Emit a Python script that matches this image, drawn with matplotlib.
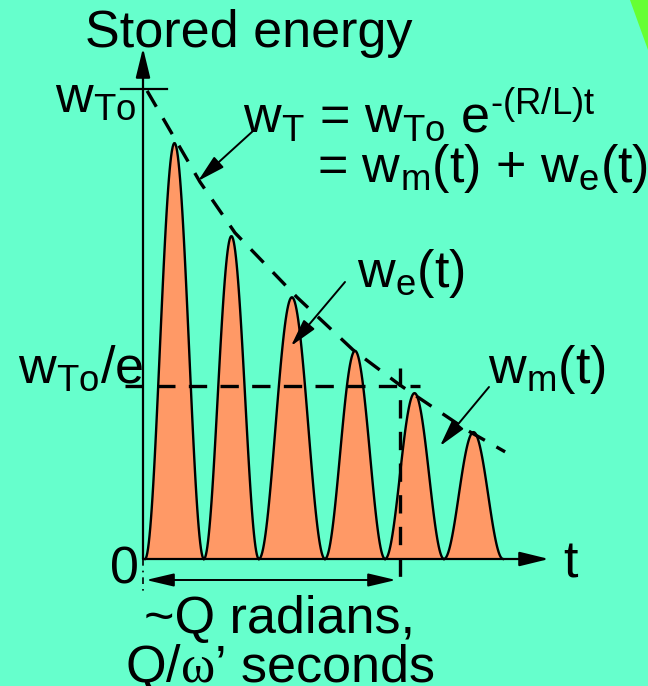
import numpy as np
import matplotlib
matplotlib.use('Agg')
import matplotlib.pyplot as plt
from matplotlib.patches import Polygon

plt.rcParams['font.family'] = ['Liberation Sans', 'DejaVu Sans']
plt.rcParams['mathtext.fontset'] = 'custom'
plt.rcParams['mathtext.rm'] = 'Liberation Sans'
plt.rcParams['mathtext.it'] = 'Liberation Sans'
plt.rcParams['mathtext.sf'] = 'Liberation Serif'

# time in units of L/R, energy in units of w_To
zeros_t = [0.008, 0.237, 0.451, 0.708, 0.942, 1.171, 1.401]
peak_w = [0.885, 0.687, 0.557, 0.443, 0.353, 0.270]
env_t = [0.016, 0.222, 0.358, 0.599, 0.817, 1.0, 1.261, 1.409]
env_w = [0.996, 0.802, 0.694, 0.557, 0.445, 0.370, 0.274, 0.228]
w_top = 1.0
w_e_level = 0.368
t_e = 1.0

bg = '#66FFCC'
fill_col = '#FF9966'

fig = plt.figure(figsize=(6.48, 6.86), dpi=100, facecolor=bg)
ax = fig.add_axes([0, 0, 1, 1])
ax.set_facecolor(bg)
ax.axis('off')
# pixel frame: axis origin at (143, 559), 257 px per L/R, 470 px per w_To
X0, Y0, SX, SY = 143, 559, 257, 470
ax.set_xlim(-X0 / SX, (648 - X0) / SX)
ax.set_ylim((Y0 - 686) / SY, Y0 / SY)


def px(x, y):
    return ((x - X0) / SX, (Y0 - y) / SY)


# green corner
fig.patches.append(Polygon([(630 / 648, 1), (1, 1), (1, 1 - 50 / 686)],
                           closed=True, transform=fig.transFigure,
                           facecolor='#66FF33', edgecolor='none'))

# energy lobes
for a, b, h in zip(zeros_t[:-1], zeros_t[1:], peak_w):
    s = np.linspace(0, 1, 80)
    t = a + (b - a) * s
    w = h * np.sin(np.pi * s) ** 2
    ax.fill_between(t, 0, w, color=fill_col, lw=0, zorder=2)
    ax.plot(t, w, color='k', lw=1.7, zorder=3)

dash = (0, (5.5, 4))
# envelope
ax.plot(env_t, env_w, color='k', lw=2.4, ls=dash, zorder=5)
# 1/e guides
ax.plot([px(125, 0)[0], px(420, 0)[0]], [w_e_level, w_e_level],
        color='k', lw=2.4, ls=dash, zorder=5)
ax.plot([t_e, t_e], [px(0, 368)[1], px(0, 586)[1]],
        color='k', lw=2.4, ls=dash, zorder=5)
ax.plot([0, 0], [0, px(0, 592)[1]], color='k', lw=1.2, ls=(0, (4, 3, 1, 3)), zorder=5)

# w_To tick
ax.plot([px(121, 0)[0], px(167, 0)[0]], [w_top, w_top], color='k', lw=1.6, zorder=5)

# axes with arrows
ax_arrow = dict(arrowstyle='-|>,head_length=0.9,head_width=0.22', color='k',
                lw=1.6, shrinkA=0, shrinkB=0, mutation_scale=20)
ax.annotate('', xy=px(143, 48), xytext=(0, 0), arrowprops=ax_arrow, zorder=6)
ax.annotate('', xy=px(549, 559), xytext=(0, 0), arrowprops=ax_arrow, zorder=6)

# pointer arrows
ptr = dict(arrowstyle='-|>,head_length=0.85,head_width=0.22', color='k',
           lw=1.4, shrinkA=0, shrinkB=0, mutation_scale=20)
ax.annotate('', xy=px(198, 181), xytext=px(253, 131), arrowprops=ptr, zorder=6)
ax.annotate('', xy=px(291, 346), xytext=px(345, 282), arrowprops=ptr, zorder=6)
ax.annotate('', xy=px(440, 446), xytext=px(489, 387), arrowprops=ptr, zorder=6)
ax.annotate('', xy=px(396, 580), xytext=px(146, 580),
            arrowprops=dict(arrowstyle='<|-|>,head_length=0.85,head_width=0.2',
                            color='k', lw=1.4, shrinkA=0, shrinkB=0,
                            mutation_scale=20), zorder=6)

fs = 37.5
kw = dict(fontsize=fs, color='k', va='baseline', ha='left', zorder=7)
ax.text(*px(85, 47), 'Stored energy', **kw)
ax.text(*px(55, 112), r'$\mathrm{w_{To}}$', **kw)
ax.text(*px(243, 132),
        '$\\mathrm{w_T}$ = $\\mathrm{w_{To}\\ e^{\u2010(R/L)t}}$', **kw)
ax.text(*px(317, 182), r'= $\mathrm{w_m(t)}$ + $\mathrm{w_e(t)}$', **kw)
ax.text(*px(18, 383), r'$\mathrm{w_{To}/e}$', **kw)
ax.text(*px(357, 287), r'$\mathrm{w_e(t)}$', **kw)
ax.text(*px(488, 383), r'$\mathrm{w_m(t)}$', **kw)
ax.text(*px(110, 583), '0', **kw)
ax.text(*px(563, 578), 't', **kw)
kc = dict(kw, ha='center')
ax.text(*px(279, 633), '~Q radians,', **kc)
ax.text(*px(280, 682), 'Q/$\\mathsf{\\omega}$\u2019 seconds', **kc)

fig.savefig('out.png', dpi=100, facecolor=bg)
